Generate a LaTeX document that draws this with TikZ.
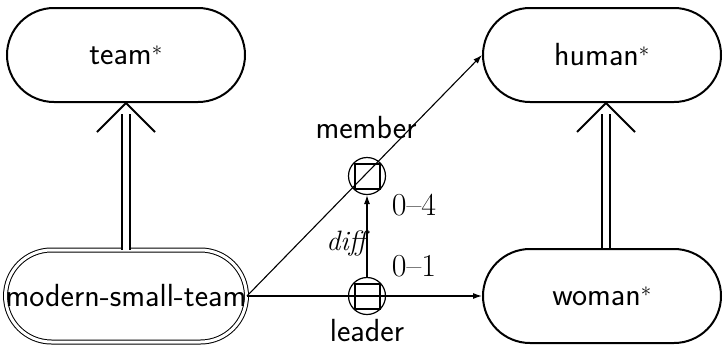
\documentclass[tikz,border=0pt]{standalone}
\usetikzlibrary{arrows.meta,calc}
\begin{document}
\begin{tikzpicture}[x=1pt,y=-1pt,
  lbl/.style={font=\fontsize{32}{36}\selectfont\sffamily},
  concept/.style={lbl, draw, line width=2pt, rounded corners=47pt,
    minimum width=238pt, minimum height=94pt, inner sep=0pt},
  defconcept/.style={lbl, draw, line width=1pt, double=white, double distance=3pt,
    rounded corners=46pt, minimum width=237pt, minimum height=92pt, inner sep=0pt},
  role/.style={draw, circle, line width=1.2pt, minimum size=37pt, inner sep=0pt},
  rolebox/.style={draw, line width=2pt, minimum size=25pt, inner sep=0pt},
  conn/.style={line width=1.1pt, -{Latex[length=9pt,width=6pt]}},
  isa/.style={line width=2.3pt, double=white, double distance=6pt},
  isatip/.style={line width=2pt},
  num/.style={font=\fontsize{32}{36}\selectfont\rmfamily}]
\useasboundingbox (0,0) rectangle (723,349);

% concepts
\node[concept] (team) at (126,55) {team$^*$};
\node[concept] (human) at (602,55) {human$^*$};
\node[defconcept] (mst) at (126,296) {modern-small-team};
\node[concept] (woman) at (602,296) {woman$^*$};

% roles
\node[role] (member) at (367,176) {};
\node[rolebox] (memberbox) at (367,176) {};
\node[role] (leader) at (367,296) {};
\node[rolebox] (leaderbox) at (367,296) {};

% role connectors
\draw[conn] (mst.east) -- (human.west);
\draw[conn] (mst.east) -- (woman.west);
\draw[conn] (leader.north) -- (member.south);

% subsumption links
\coordinate (teamtip) at (team.south);
\draw[isa] (mst.north) -- ($(teamtip)+(0,11)$);
\draw[isatip] ($(teamtip)+(-29,29)$) -- (teamtip) -- ($(teamtip)+(29,29)$);
\coordinate (humantip) at ($(human.south)+(4,0)$);
\coordinate (womantop) at ($(woman.north)+(4,0)$);
\draw[isa] (womantop) -- ($(humantip)+(0,11)$);
\draw[isatip] ($(humantip)+(-29,29)$) -- (humantip) -- ($(humantip)+(29,29)$);

% labels
\node[lbl] (memberlbl) at (366,128) {member};
\node[lbl] (leaderlbl) at (367,331) {leader};
\node[num, font=\fontsize{28}{32}\selectfont\rmfamily\itshape] (difflbl) at (346,243) {diff};
\node[num] (card1) at (414,205) {0--4};
\node[num] (card2) at (414,266) {0--1};
\end{tikzpicture}
\end{document}
